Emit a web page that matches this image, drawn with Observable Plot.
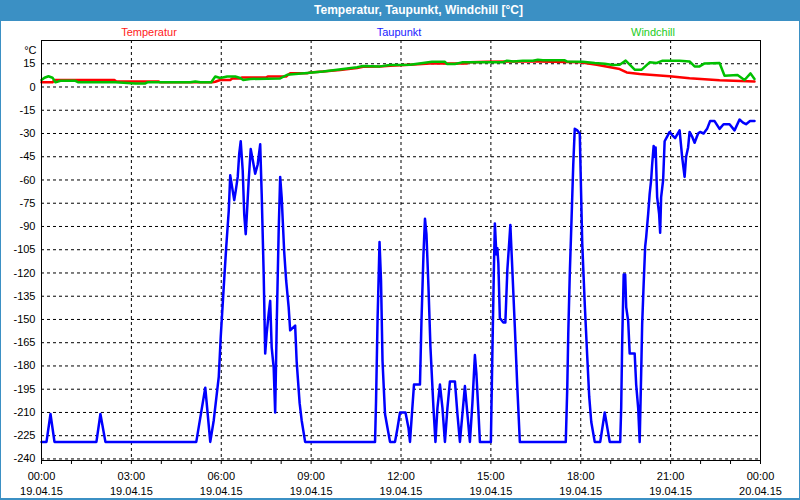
<!DOCTYPE html>
<html>
<head>
<meta charset="utf-8">
<script src="https://cdn.jsdelivr.net/npm/d3@7"></script>
<script src="https://cdn.jsdelivr.net/npm/@observablehq/plot@0.6"></script>
<style>
  html, body { margin: 0; padding: 0; background: #fff; }
  #win { position: relative; width: 800px; height: 500px; overflow: hidden; background: #fff; font-family: "Liberation Sans", Arial, sans-serif; }
  #bar { height: 21px; line-height: 21px; background: #3b90c4; color: #fff; font-weight: bold; font-size: 12px; text-align: center; padding-left: 37px; box-sizing: border-box; }
  #border { position: absolute; left: 0; top: 0; right: 0; bottom: 0; border-left: 1px solid #3b90c4; border-right: 1px solid #3b90c4; border-bottom: 2px solid #3b90c4; pointer-events: none; }
  svg { display: block; }
</style>
</head>
<body>
<div id="win">
  <div id="bar">Temperatur, Taupunkt, Windchill [°C]</div>
  <div id="chart"></div>
  <div id="border"></div>
</div>
<script>
// minutes since 19.04.15 00:00, value in °C
const temperatur = [[0,3],[22,3],[26,4.5],[146,4.5],[150,3.6],[234,3.6],[238,3],[342,3],[348,3.4],[358,4.5],[378,4.5],[382,5.5],[398,5.5],[402,6.2],[450,6.2],[454,6.8],[490,6.8],[494,7.9],[498,8.8],[532,8.8],[538,9.4],[564,10],[598,11],[632,12.3],[644,13.1],[678,13.3],[698,13.7],[738,14.4],[778,15.2],[852,15.2],[858,15.9],[892,16.3],[998,16.5],[1052,16.2],[1078,15.9],[1112,14.4],[1158,11.6],[1172,9.4],[1198,8.4],[1258,6.9],[1298,5.6],[1358,4.3],[1428,3.6]];

const windchill = [[0,4.5],[6,6],[14,6.9],[22,6],[28,3],[38,4],[68,4],[74,3],[148,3],[188,2.3],[208,2.3],[212,3],[298,3],[308,3.6],[318,3],[340,3],[342,4],[348,6.8],[358,5.8],[372,6.8],[388,6.8],[398,5.8],[404,4.5],[418,5.2],[478,5.5],[492,7.9],[532,9],[564,10],[632,12.7],[644,13.5],[678,13.3],[698,14.2],[738,14.4],[764,15.5],[782,16.3],[808,16.3],[812,14.8],[828,14.8],[842,15.9],[924,15.9],[932,17],[944,16.5],[964,17],[984,17],[994,17.6],[1004,17.2],[1048,17.2],[1052,16.5],[1084,16.3],[1108,15.5],[1128,15],[1144,14.2],[1158,14.4],[1170,17],[1188,11.2],[1202,11.2],[1218,15.9],[1232,15.5],[1244,17],[1278,17],[1298,16.5],[1308,13.3],[1318,13.3],[1328,15.2],[1358,15.5],[1368,7.3],[1394,7.7],[1408,4.5],[1420,8.8],[1428,5.2]];

const taupunkt = [[0,-229],[10,-229],[18,-211],[26,-229],[110,-229],[118,-211],[128,-229],[310,-229],[328,-194],[338,-229],[345,-215],[355,-187],[359,-161],[365,-129],[370,-103],[375,-80],[378,-57],[383,-67],[386,-73],[389,-67],[393,-58],[396,-43],[399,-35],[403,-54],[406,-82],[409,-95],[411,-84],[415,-60],[419,-40],[423,-47],[428,-56],[433,-50],[438,-37],[441,-69],[445,-121],[448,-172],[451,-159],[455,-146],[458,-138],[461,-168],[465,-181],[468,-210],[471,-155],[475,-93],[478,-58],[481,-71],[486,-106],[490,-125],[495,-142],[498,-157],[508,-154],[511,-177],[517,-204],[521,-215],[528,-229],[668,-229],[670,-203],[673,-151],[677,-100],[680,-125],[683,-177],[688,-211],[693,-220],[698,-229],[708,-229],[713,-220],[718,-210],[729,-210],[735,-220],[738,-229],[741,-215],[746,-192],[758,-192],[761,-151],[765,-108],[768,-85],[771,-95],[775,-129],[779,-168],[785,-207],[789,-229],[793,-207],[798,-192],[803,-207],[808,-229],[813,-207],[818,-190],[828,-190],[833,-211],[838,-229],[843,-211],[848,-193],[853,-211],[858,-229],[863,-204],[868,-173],[871,-185],[875,-209],[878,-229],[900,-229],[903,-172],[906,-118],[908,-88],[911,-108],[913,-104],[915,-114],[918,-149],[925,-152],[929,-152],[933,-118],[937,-99],[939,-89],[943,-118],[948,-155],[953,-194],[958,-229],[1050,-229],[1053,-194],[1055,-159],[1058,-121],[1061,-91],[1065,-50],[1068,-27],[1073,-28],[1078,-30],[1083,-101],[1088,-140],[1093,-174],[1097,-200],[1101,-216],[1108,-229],[1119,-229],[1128,-210],[1138,-229],[1159,-229],[1161,-207],[1163,-164],[1166,-121],[1169,-121],[1171,-142],[1175,-151],[1178,-172],[1188,-172],[1191,-192],[1195,-207],[1198,-229],[1201,-185],[1203,-153],[1206,-127],[1209,-103],[1211,-97],[1215,-82],[1218,-69],[1221,-60],[1223,-50],[1226,-38],[1228,-45],[1230,-39],[1233,-71],[1237,-82],[1239,-94],[1241,-71],[1245,-60],[1248,-35],[1253,-32],[1258,-29],[1263,-31],[1269,-33],[1278,-28],[1283,-45],[1288,-58],[1291,-45],[1295,-39],[1298,-29],[1303,-32],[1308,-36],[1315,-30],[1319,-29],[1326,-30],[1333,-27],[1339,-22],[1348,-22],[1358,-27],[1366,-24],[1378,-24],[1388,-28],[1398,-21],[1405,-23],[1411,-24],[1419,-22],[1428,-22]];

const seriesNames = ["Temperatur", "Taupunkt", "Windchill"];
const seriesColors = ["#ff0000", "#0000ff", "#00c000"];
const legendColors = ["#ff1a1a", "#1a1aff", "#22cc22"];
const yTicks = d3.range(-240, 30, 15);
const yUnitLabel = "°C";

const start = Date.UTC(2015, 3, 19, 0, 0);
const end = Date.UTC(2015, 3, 20, 0, 0);
const toRows = arr => arr.map(([m, v]) => ({t: new Date(start + m * 60000), v}));
const rowsT = toRows(temperatur), rowsD = toRows(taupunkt), rowsW = toRows(windchill);

const hours3 = d3.utcHour.every(3).range(new Date(start), new Date(end + 1));
const hours1 = d3.utcHour.every(1).range(new Date(start), new Date(end + 1));
const innerGridX = hours3.filter(d => +d !== start && +d !== end);

const font = "Liberation Sans, Arial, sans-serif";

const chart = Plot.plot({
  width: 800,
  height: 479,
  marginTop: 19,
  marginBottom: 40,
  marginLeft: 41,
  marginRight: 40,
  style: {fontFamily: font, fontSize: "11px", color: "#000", background: "#fff"},
  x: {type: "utc", domain: [new Date(start), new Date(end)]},
  y: {domain: [-241, 30]},
  marks: [
    Plot.gridY(yTicks.filter(d => d !== 30), {stroke: "#000", strokeOpacity: 1, strokeDasharray: "3,3"}),
    Plot.gridX(innerGridX, {stroke: "#000", strokeOpacity: 1, strokeDasharray: "3,3"}),
    Plot.axisY({ticks: yTicks, tickSize: 0, tickPadding: 6, tickFormat: d => String(d), label: null, fill: "#000", fontSize: 11}),
    Plot.text([yUnitLabel], {frameAnchor: "top-left", dx: -5, dy: 6, textAnchor: "end", fontSize: 11, fill: "#000"}),
    Plot.axisX({ticks: hours1, tickSize: 4, tickFormat: () => "", label: null, stroke: "#000"}),
    Plot.axisX({ticks: hours3, tickSize: 0, tickPadding: 12, tickFormat: d3.utcFormat("%H:%M"), label: null, fontSize: 11, fill: "#000"}),
    Plot.axisX({ticks: hours3, tickSize: 0, tickPadding: 27, tickFormat: d3.utcFormat("%d.%m.%y"), label: null, fontSize: 11, fill: "#000"}),
    Plot.line(rowsT, {x: "t", y: "v", stroke: seriesColors[0], strokeWidth: 2.5}),
    Plot.line(rowsD, {x: "t", y: "v", stroke: seriesColors[1], strokeWidth: 2.5}),
    Plot.line(rowsW, {x: "t", y: "v", stroke: seriesColors[2], strokeWidth: 2.5}),
    Plot.text([seriesNames[0]], {frameAnchor: "top", dx: -252, dy: -12, fill: legendColors[0], fontSize: 11}),
    Plot.text([seriesNames[1]], {frameAnchor: "top", dx: -2, dy: -12, fill: legendColors[1], fontSize: 11}),
    Plot.text([seriesNames[2]], {frameAnchor: "top", dx: 252, dy: -12, fill: legendColors[2], fontSize: 11}),
    Plot.frame({stroke: "#000", strokeWidth: 1})
  ]
});
document.getElementById("chart").appendChild(chart);
</script>
</body>
</html>
